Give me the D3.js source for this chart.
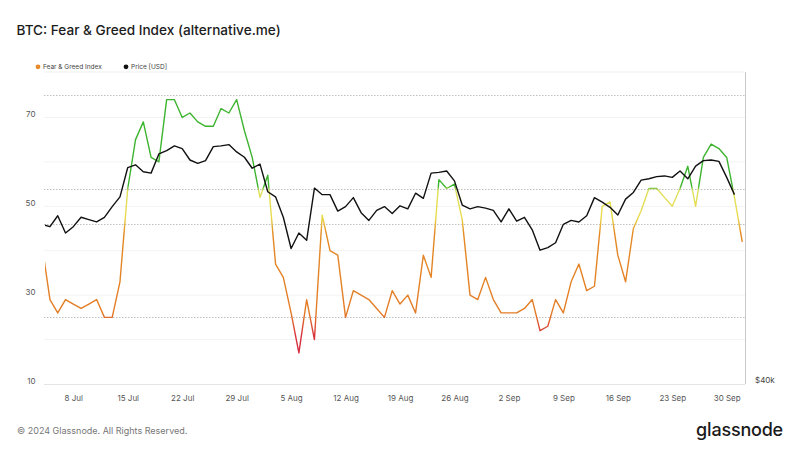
<!DOCTYPE html>
<html>
<head>
<meta charset="utf-8">
<script src="https://cdn.jsdelivr.net/npm/d3@7"></script>
<style>
  html, body { margin: 0; padding: 0; background: #fff; }
  svg { display: block; font-family: Inter, "Noto Sans", sans-serif; }
</style>
</head>
<body>
<svg id="chart" width="800" height="450"></svg>
<script>
// ---------------- data ----------------
const startDate = "2024-07-04";
// Fear & Greed Index, daily from 2024-07-04 to 2024-10-02
const fearGreed = [
  41, 29, 26, 29, 28, 27, 28, 29, 25, 25, 33, 54, 65, 69, 61, 60, 74, 74, 70, 71,
  69, 68, 68, 72, 71, 74, 67, 61,
  52, 57, 37, 34, 26, 17, 29, 20, 48, 40, 39, 25, 31, 30, 29, 27, 25, 31, 28, 30,
  26, 39, 34, 56, 54, 55, 47, 30, 29, 34, 29,
  26, 26, 26, 27, 29, 22, 23, 29, 26, 33, 37, 31, 32, 50, 51, 39, 33, 45, 49, 54,
  54, 52, 50, 54, 59, 50, 61, 64, 63, 61,
  52, 42
];
// BTC price (USD thousands), daily from 2024-07-04 to 2024-10-01
const priceK = [
  57.1, 56.8, 58.2, 56.0, 56.8, 58.0, 57.7, 57.4, 58.0, 59.4, 60.7, 64.8, 65.2, 64.2,
  64.0, 66.8, 67.3, 68.0, 67.6, 65.9, 65.4, 65.8, 67.9, 68.0, 68.2, 67.1, 66.3, 64.7,
  65.3, 61.4, 60.7, 58.0, 54.1, 56.0, 55.1, 61.9, 61.0, 61.0, 58.8, 59.4, 60.6, 58.6,
  57.6, 58.9, 59.4, 58.5, 59.5, 59.1, 61.2, 60.5, 64.0, 64.1, 64.3, 62.9, 59.6, 59.1,
  59.4, 59.2, 58.9,
  57.4, 59.1, 57.5, 58.0, 56.4, 53.9, 54.2, 54.8, 57.1, 57.6, 57.4, 58.2, 60.6, 60.0,
  59.3, 58.3, 60.4, 61.3, 63.0, 63.2, 63.5, 63.6, 63.4, 64.3, 63.2, 65.0, 65.8, 65.9,
  65.7, 63.4,
  61.0
];
const leftTicks = [10, 30, 50, 70];
const gridValues = [20, 30, 40, 50, 60, 70];
const zoneLines = [25, 46, 54, 75];
const rightTicks = [40000];
const rightTickLabels = ["$40k"];
const legendItems = [
  { label: "Fear & Greed Index", color: "#e8892a" },
  { label: "Price [USD]", color: "#111111" }
];
// colour stops of the index line (value -> colour)
const colorStops = [
  { v: 10, c: "#cf2547" }, { v: 21, c: "#d8323c" }, { v: 26, c: "#e37c26" },
  { v: 44, c: "#e38a24" }, { v: 47.5, c: "#e9db4c" }, { v: 53.5, c: "#dfe05c" },
  { v: 54.5, c: "#3db42f" }, { v: 80, c: "#3db42f" }
];

// ---------------- layout ----------------
const W = 800, H = 450;
const plot = { left: 44, right: 745, top: 73, bottom: 384 };

const parse = d3.utcParse("%Y-%m-%d");
const t0 = parse(startDate);
const fgData = fearGreed.map((v, i) => ({ date: d3.utcDay.offset(t0, i), v }));
const pxData = priceK.map((v, i) => ({ date: d3.utcDay.offset(t0, i), v: v * 1000 }));

const x = d3.scaleUtc()
  .domain([parse("2024-07-08"), parse("2024-09-30")])
  .range([73.3, 726.7]);
const yFG = d3.scaleLinear().domain([10, 80]).range([plot.bottom, plot.top]);
const yPx = d3.scaleLog().domain([40000, 80000]).range([plot.bottom, plot.top]);

const svg = d3.select("#chart");
svg.append("rect").attr("width", W).attr("height", H).attr("fill", "#fff");

const defs = svg.append("defs");
defs.append("clipPath").attr("id", "plotClip")
  .append("rect")
  .attr("x", plot.left + 1).attr("y", plot.top - 6)
  .attr("width", plot.right - plot.left - 1).attr("height", plot.bottom - plot.top + 12);

const grad = defs.append("linearGradient").attr("id", "fgGrad")
  .attr("gradientUnits", "userSpaceOnUse")
  .attr("x1", 0).attr("x2", 0)
  .attr("y1", yFG(10)).attr("y2", yFG(80));
colorStops.forEach(s => {
  grad.append("stop").attr("offset", (s.v - 10) / 70).attr("stop-color", s.c);
});

// title
svg.append("text").attr("x", 16.5).attr("y", 34.5)
  .attr("font-size", 13.6).attr("font-weight", 500).attr("fill", "#1c1c1c")
  .text("BTC: Fear & Greed Index (alternative.me)");

// legend
const leg = svg.append("g").attr("font-size", 6.5).attr("fill", "#444");
legendItems.forEach((it, i) => {
  const gx = i === 0 ? 38 : 126;
  leg.append("circle").attr("cx", gx).attr("cy", 66.8).attr("r", 2.4).attr("fill", it.color);
  leg.append("text").attr("x", gx + 5).attr("y", 69).attr("fill", "#444").text(it.label);
});

// top frame line
svg.append("line").attr("x1", plot.left).attr("x2", plot.right)
  .attr("y1", plot.top - 1).attr("y2", plot.top - 1)
  .attr("stroke", "#efefef").attr("stroke-width", 1);

// faint gridlines
svg.append("g").selectAll("line").data(gridValues).join("line")
  .attr("x1", plot.left).attr("x2", plot.right)
  .attr("y1", d => yFG(d)).attr("y2", d => yFG(d))
  .attr("stroke", "#f3f3f3").attr("stroke-width", 1);

// dotted zone lines
svg.append("g").selectAll("line").data(zoneLines).join("line")
  .attr("x1", plot.left).attr("x2", plot.right)
  .attr("y1", d => Math.round(yFG(d)) + 0.5).attr("y2", d => Math.round(yFG(d)) + 0.5)
  .attr("stroke", "#b8b8b8").attr("stroke-width", 0.9)
  .attr("stroke-dasharray", "1.5,1.5");

// bottom axis line and right border
svg.append("line").attr("x1", plot.left).attr("x2", plot.right)
  .attr("y1", plot.bottom + 0.5).attr("y2", plot.bottom + 0.5)
  .attr("stroke", "#e4e4e4");
svg.append("line").attr("x1", plot.right + 0.5).attr("x2", plot.right + 0.5)
  .attr("y1", plot.top - 1).attr("y2", plot.bottom)
  .attr("stroke", "#c9c9c9");

// axes
const xAxis = d3.axisBottom(x)
  .ticks(d3.utcMonday.every(1))
  .tickFormat(d3.utcFormat("%-d %b"))
  .tickSize(0).tickPadding(11.5);
const gx = svg.append("g").attr("transform", `translate(0,${plot.bottom})`).call(xAxis);
gx.select(".domain").remove();
gx.selectAll("text").attr("font-size", 8).attr("fill", "#555").attr("font-family", "Inter, sans-serif");

const yAxisL = d3.axisLeft(yFG).tickValues(leftTicks).tickSize(0).tickPadding(8.5);
const gl = svg.append("g").attr("transform", `translate(${plot.left},0)`).call(yAxisL);
gl.select(".domain").remove();
gl.selectAll("text").attr("font-size", 8).attr("fill", "#555")
  .attr("font-family", "Inter, sans-serif").attr("transform", "translate(0,-3.5)");

const yAxisR = d3.axisRight(yPx).tickValues(rightTicks)
  .tickFormat((d, i) => rightTickLabels[i]).tickSize(0).tickPadding(10);
const gr = svg.append("g").attr("transform", `translate(${plot.right},0)`).call(yAxisR);
gr.select(".domain").remove();
gr.selectAll("text").attr("font-size", 8).attr("fill", "#444")
  .attr("font-family", "Inter, sans-serif").attr("transform", "translate(0,-4)");

// lines
const g = svg.append("g").attr("clip-path", "url(#plotClip)");
const fgLine = d3.line().x(d => x(d.date)).y(d => yFG(d.v));
const pxLine = d3.line().x(d => x(d.date)).y(d => yPx(d.v));

g.append("path").datum(fgData)
  .attr("d", fgLine).attr("fill", "none")
  .attr("stroke", "url(#fgGrad)").attr("stroke-width", 1.4)
  .attr("stroke-linejoin", "round");
g.append("path").datum(pxData)
  .attr("d", pxLine).attr("fill", "none")
  .attr("stroke", "#111").attr("stroke-width", 1.4)
  .attr("stroke-linejoin", "round");

// footer
svg.append("text").attr("x", 17).attr("y", 433.5)
  .attr("font-size", 9).attr("fill", "#777")
  .text("© 2024 Glassnode. All Rights Reserved.");
svg.append("text").attr("x", 783).attr("y", 435.5).attr("text-anchor", "end")
  .attr("font-size", 18).attr("font-weight", 500).attr("fill", "#1a1a1a")
  .attr("letter-spacing", -0.2)
  .text("glassnode");
</script>
</body>
</html>
